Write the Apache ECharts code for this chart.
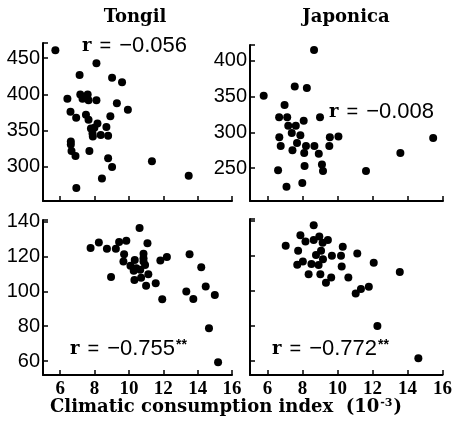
<!DOCTYPE html>
<html>
<head>
<meta charset="UTF-8">
<title>Climatic consumption index</title>
<script src="https://cdn.jsdelivr.net/npm/echarts@6/dist/echarts.min.js"></script>
</head>
<body style="margin:0">
<div id="main" style="width:455px;height:428px;"></div>
<script>
// x ticks shared by all four panels
var xTicks = [6, 8, 10, 12, 14, 16]

// top row y ticks
var tongilTopTicks = [300, 350, 400, 450]
var japonicaTopTicks = [250, 300, 350, 400]
// bottom row y ticks
var bottomTicks = [60, 80, 100, 120, 140]

// Tongil, upper panel  [index, value]
var tongilUpper = [
  [5.72, 461], [8.11, 443], [7.13, 427], [9.02, 423], [9.6, 417],
  [6.42, 394], [7.17, 400], [7.6, 400], [7.3, 394], [7.65, 392],
  [8.11, 392], [9.3, 388], [9.94, 379], [6.6, 376], [6.93, 368],
  [7.5, 372], [7.65, 365], [8.92, 370], [8.17, 360], [7.79, 353],
  [7.99, 354], [8.69, 355], [7.88, 346], [8.36, 344], [8.79, 343],
  [7.9, 342], [6.62, 335], [6.62, 331], [6.66, 322], [7.7, 322],
  [6.89, 315], [8.79, 312], [9.02, 300], [11.34, 308], [8.43, 284],
  [13.48, 288], [6.94, 271]
]

// Japonica, upper panel
var japonicaUpper = [
  [8.65, 415], [7.55, 364], [8.24, 362], [5.78, 351], [6.97, 338],
  [6.66, 321], [7.12, 321], [8.99, 321], [8.06, 316], [7.18, 309],
  [7.61, 309], [7.38, 299], [7.87, 296], [6.67, 293], [9.55, 293],
  [10.04, 294], [15.44, 292], [6.75, 281], [7.68, 285], [8.19, 281],
  [8.67, 281], [9.52, 281], [7.42, 275], [8.09, 271], [8.92, 270],
  [13.57, 271], [8.11, 253], [9.1, 255], [9.16, 246], [6.6, 247],
  [11.61, 246], [7.98, 229], [7.08, 224]
]

// Tongil, lower panel
var tongilLower = [
  [7.77, 124.9], [8.25, 128.1], [8.72, 124.5], [9.24, 124.5], [9.43, 128.3],
  [9.85, 129.1], [10.62, 136.4], [11.08, 127.7], [9.72, 121.4], [9.68, 117.1],
  [10.09, 114.7], [10.34, 118.1], [10.85, 121.6], [10.85, 119.1], [10.85, 117.1],
  [10.94, 115.2], [10.43, 113.3], [10.66, 112.4], [10.28, 111.8], [11.13, 109.9],
  [10.71, 107.9], [10.32, 106.6], [8.96, 108.2], [11.0, 103.2], [11.56, 104.7],
  [11.83, 117.7], [12.21, 119.7], [11.94, 95.5], [13.53, 121.4], [14.21, 113.9],
  [13.34, 99.9], [13.75, 95.7], [14.47, 102.8], [15.0, 98], [14.66, 78.8],
  [15.19, 59.3]
]

// Japonica, lower panel
var japonicaLower = [
  [8.64, 137.5], [7.88, 131.8], [8.17, 128.2], [8.64, 129], [8.96, 131],
  [9.15, 127.4], [9.45, 129], [7.04, 125.7], [7.75, 122.9], [9.06, 122.9],
  [8.77, 120.4], [10.3, 125.1], [9.68, 120], [10.2, 120], [11.13, 121.3],
  [9.17, 118.1], [8.02, 116.7], [7.7, 114.9], [8.51, 115.3], [8.92, 114.7],
  [10.24, 113.9], [12.07, 116], [13.56, 110.7], [8.35, 109.5], [9.02, 109.5],
  [9.64, 107.6], [9.34, 104.7], [10.62, 107.6], [11.79, 102.3], [11.34, 101],
  [11.04, 98.5], [12.28, 80], [14.62, 61.5]
]

var serif = 'DejaVu Serif'
var sans = 'Liberation Sans'

function makeX (gridIndex, showLabel) {
  return {
    type: 'value',
    gridIndex: gridIndex,
    min: 5,
    max: 16,
    axisLine: {onZero: false, lineStyle: {color: '#000', width: 2}},
    axisTick: {inside: true, length: 5, customValues: xTicks, lineStyle: {color: '#000', width: 1.5}},
    axisLabel: {
      show: showLabel,
      customValues: xTicks,
      margin: 5,
      color: '#000',
      fontFamily: 'Liberation Serif',
      fontWeight: 'bold',
      fontSize: 19
    },
    splitLine: {show: false}
  }
}

function makeY (gridIndex, min, max, ticks, showLabel) {
  return {
    type: 'value',
    gridIndex: gridIndex,
    min: min,
    max: max,
    axisLine: {onZero: false, lineStyle: {color: '#000', width: 2}},
    axisTick: {inside: true, length: 5, customValues: ticks.concat([max]), lineStyle: {color: '#000', width: 1.5}},
    axisLabel: {
      show: showLabel,
      customValues: ticks,
      margin: 3,
      color: '#000',
      fontFamily: sans,
      fontSize: 20
    },
    splitLine: {show: false}
  }
}

function dots (idx, data) {
  return {
    type: 'scatter',
    xAxisIndex: idx,
    yAxisIndex: idx,
    data: data,
    symbolSize: 8,
    itemStyle: {color: '#000', opacity: 1},
    silent: true
  }
}

// r label as rich text
function rLabel (x, y, value, stars) {
  return {
    type: 'text',
    left: x,
    top: y,
    style: {
      text: '{r|r}{eq|=}{v|' + value + '}' + (stars ? '{s|**}' : ''),
      rich: {
        r: {fontFamily: serif, fontWeight: 'bold', fontSize: 18, fill: '#000', padding: [0, 8, 0, 0]},
        eq: {fontFamily: sans, fontSize: 20, fill: '#000', padding: [0, 8, 0, 0]},
        v: {fontFamily: sans, fontSize: 22, fill: '#000'},
        s: {fontFamily: sans, fontWeight: 'bold', fontSize: 14, fill: '#000', verticalAlign: 'top', padding: [0, 0, 8, 1]}
      }
    }
  }
}

var myChart = echarts.init(document.getElementById('main'))

var option = {
  animation: false,
  backgroundColor: '#fff',
  grid: [
    {left: 43, top: 43, width: 189, height: 158},
    {left: 250, top: 45, width: 193, height: 156},
    {left: 43, top: 220, width: 189, height: 155},
    {left: 250, top: 219, width: 193, height: 156}
  ],
  xAxis: [
    makeX(0, false),
    makeX(1, false),
    makeX(2, true),
    makeX(3, true)
  ],
  yAxis: [
    makeY(0, 253, 471, tongilTopTicks, true),
    makeY(1, 204, 422, japonicaTopTicks, true),
    makeY(2, 52, 141, bottomTicks, true),
    makeY(3, 52, 141, bottomTicks, false)
  ],
  series: [
    dots(0, tongilUpper),
    dots(1, japonicaUpper),
    dots(2, tongilLower),
    dots(3, japonicaLower)
  ],
  graphic: [
    {type: 'text', x: 135, y: 8, style: {text: 'Tongil', align: 'center', font: 'bold 18px "DejaVu Serif"', fill: '#000'}},
    {type: 'text', x: 346, y: 8, style: {text: 'Japonica', align: 'center', font: 'bold 18px "DejaVu Serif"', fill: '#000'}},
    rLabel(82, 35, '−0.056', false),
    rLabel(329, 101, '−0.008', false),
    rLabel(70, 338, '−0.755', true),
    rLabel(272, 338, '−0.772', true),
    {
      type: 'text',
      x: 226,
      y: 398,
      style: {
        text: '{t|Climatic consumption index  (10}{s|-3}{t|)}',
        align: 'center',
        rich: {
          t: {fontFamily: serif, fontWeight: 'bold', fontSize: 18, fill: '#000'},
          s: {fontFamily: serif, fontWeight: 'bold', fontSize: 11, fill: '#000', verticalAlign: 'top', padding: [0, 1, 8, 1]}
        }
      }
    }
  ]
}

myChart.setOption(option)
</script>
</body>
</html>
